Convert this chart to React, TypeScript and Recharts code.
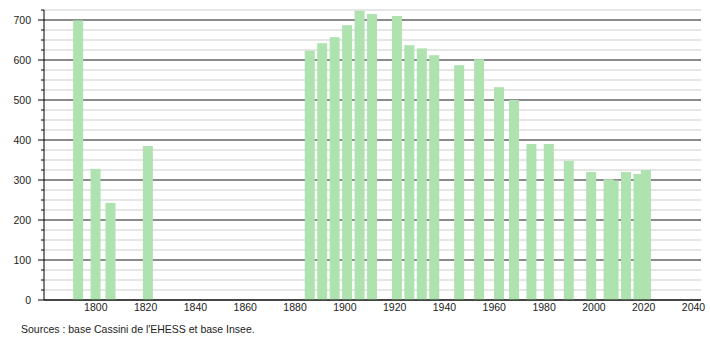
import React from "react";
import { BarChart, Bar, XAxis, YAxis, CartesianGrid } from "recharts";

const years = [
  1793, 1800, 1806, 1821, 1886, 1891, 1896, 1901, 1906, 1911, 1921, 1926, 1931, 1936,
  1946, 1954, 1962, 1968, 1975, 1982, 1990, 1999, 2006, 2008, 2013, 2018, 2021,
];
const population = [
  699, 328, 243, 385, 623, 642, 657, 687, 723, 715, 710, 637, 629, 612,
  587, 602, 532, 500, 390, 390, 348, 320, 302, 299, 320, 315, 325,
];
const xTicks = [1800, 1820, 1840, 1860, 1880, 1900, 1920, 1940, 1960, 1980, 2000, 2020, 2040];
const majorTicks = [0, 100, 200, 300, 400, 500, 600, 700];
const minorTicks = [
  0, 25, 50, 75, 100, 125, 150, 175, 200, 225, 250, 275, 300, 325, 350, 375,
  400, 425, 450, 475, 500, 525, 550, 575, 600, 625, 650, 675, 700, 725,
];

const data = years.map((year, i) => ({ year, pop: population[i] }));

const FONT = '"Liberation Sans", Arial, sans-serif';
const BAR_COLOR = "#aee2ae";

const YTick = (props: any) => {
  const { x, y, payload } = props;
  const major = payload.value % 100 === 0;
  return (
    <g>
      <line x1={x - (major ? 6 : 3)} x2={x} y1={y} y2={y} stroke="#000" />
      {major && (
        <text x={x - 13} y={y} dy="0.35em" textAnchor="end" fontSize={10.5} fill="#222" fontFamily={FONT}>
          {payload.value}
        </text>
      )}
    </g>
  );
};

const XTick = (props: any) => {
  const { x, y, payload } = props;
  return (
    <text x={x} y={y} dy={11} textAnchor="middle" fontSize={10.5} fill="#222" fontFamily={FONT}>
      {payload.value}
    </text>
  );
};

// fixed 10px bars, recentered on the year coordinate
const BarShape = (props: any) => {
  const { x, y, width, height } = props;
  const cx = x + width / 2;
  return <rect x={cx - 5} y={y} width={10} height={height} fill={BAR_COLOR} />;
};

export default function App() {
  return (
    <div style={{ position: "relative", width: 710, height: 340, background: "#fff" }}>
      <style>{"body{margin:0}"}</style>
      <BarChart
        width={710}
        height={340}
        data={data}
        margin={{ top: 10, right: 9, bottom: 0, left: 0 }}
      >
        <CartesianGrid vertical={false} horizontalValues={minorTicks} stroke="#cccccc" />
        <CartesianGrid vertical={false} horizontalValues={majorTicks} stroke="#333333" />
        <XAxis
          dataKey="year"
          type="number"
          domain={[1779.2, 2043]}
          ticks={xTicks}
          interval={0}
          allowDataOverflow
          height={40}
          tickSize={0}
          tickMargin={0}
          tickLine={false}
          axisLine={{ stroke: "#000" }}
          tick={<XTick />}
        />
        <YAxis
          type="number"
          domain={[0, 725]}
          ticks={minorTicks}
          interval={0}
          allowDataOverflow
          width={44}
          tickSize={0}
          tickMargin={0}
          tickLine={false}
          axisLine={{ stroke: "#000" }}
          tick={<YTick />}
        />
        <Bar dataKey="pop" barSize={10} fill={BAR_COLOR} shape={<BarShape />} isAnimationActive={false} />
      </BarChart>
      <div
        style={{
          position: "absolute",
          left: 21,
          top: 323,
          fontFamily: FONT,
          fontSize: 10.5,
          color: "#222",
          whiteSpace: "nowrap",
        }}
      >
        Sources : base Cassini de l'EHESS et base Insee.
      </div>
    </div>
  );
}
